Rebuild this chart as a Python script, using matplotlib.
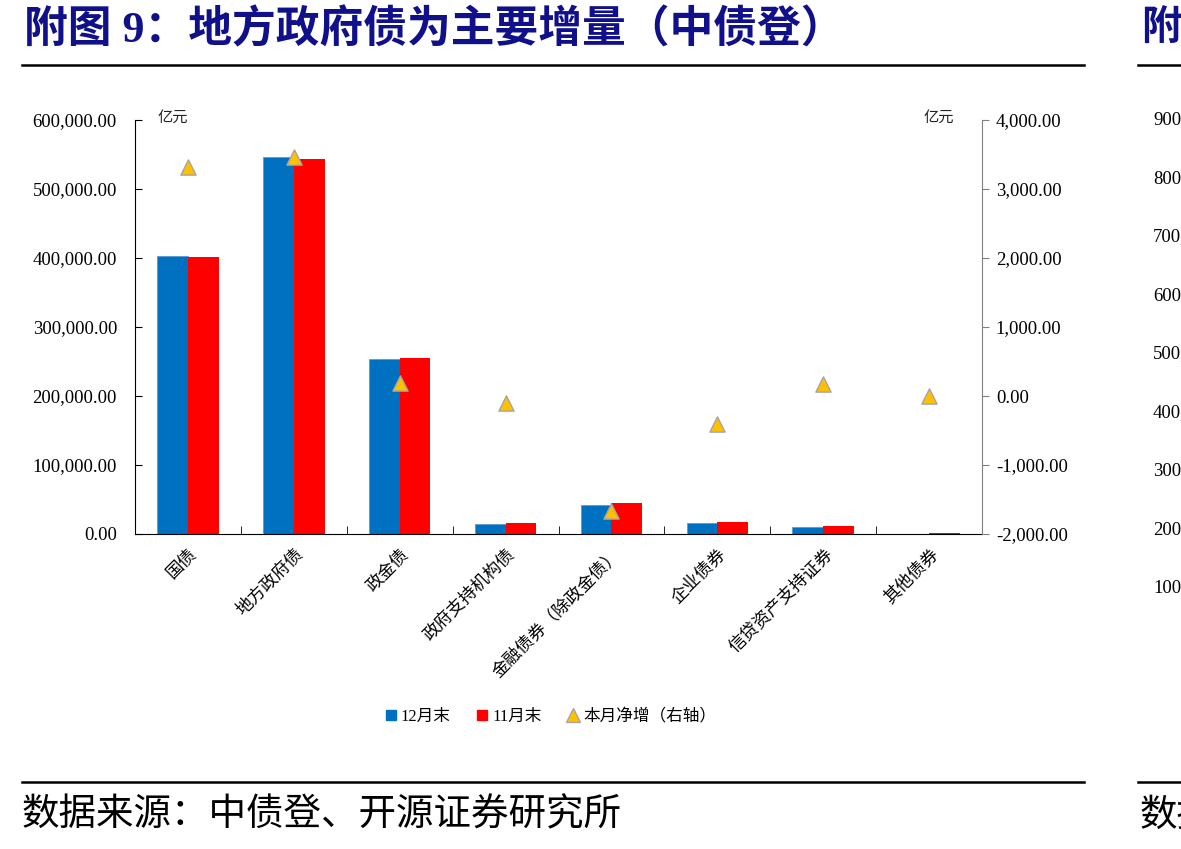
#!/usr/bin/env python3
"""Bond custody by category: 12月末 vs 11月末 balances with monthly net change (right axis)."""

import matplotlib
matplotlib.use("Agg")
import matplotlib.pyplot as plt
import matplotlib.patches as mpatches
from matplotlib.lines import Line2D
from matplotlib.ticker import FuncFormatter, MultipleLocator
import numpy as np

plt.rcParams["font.family"] = ["Liberation Serif", "Noto Sans CJK SC"]

# --- data (亿元) ---
categories = ["国债", "地方政府债", "政金债", "政府支持机构债", "金融债券（除政金债）",
              "企业债券", "信贷资产支持证券", "其他债券"]
dec_end = [403000, 545900, 253200, 14500, 41600, 15500, 10100, 300]
nov_end = [401400, 543500, 255100, 16000, 44900, 17400, 11600, 1500]
net_change = [3320, 3470, 190, -100, -1660, -410, 170, 0]

# cut-off neighbour chart on the right edge of the page
neighbour_ticks = ["900,000.00", "800,000.00", "700,000.00", "600,000.00", "500,000.00",
                   "400,000.00", "300,000.00", "200,000.00", "100,000.00"]

W, H = 1181, 849
BLUE, RED, GOLD = "#0070C0", "#FF0000", "#FFC000"
TITLE_C = "#10108A"


def fx(px):
    return px / W


def fy(px):
    return 1 - px / H


fig = plt.figure(figsize=(W / 100, H / 100), dpi=100)

# header / footer
fig.text(fx(24), fy(30), "附图 9：地方政府债为主要增量（中债登）", fontsize=31.5,
         fontweight="bold", color=TITLE_C, va="center", ha="left")
fig.add_artist(Line2D([fx(22), fx(1084)], [fy(65), fy(65)], lw=1.8, color="black"))
fig.add_artist(Line2D([fx(22), fx(1084)], [fy(782), fy(782)], lw=1.8, color="black"))
fig.text(fx(22), fy(815), "数据来源：中债登、开源证券研究所", fontsize=27,
         va="center", ha="left", family=["Noto Sans CJK SC"])

# neighbour chart remnants
fig.text(fx(1141), fy(30), "附", fontsize=29, fontweight="bold", color=TITLE_C,
         va="center", ha="left")
fig.add_artist(Line2D([fx(1138), fx(1181)], [fy(65), fy(65)], lw=1.8, color="black"))
fig.add_artist(Line2D([fx(1138), fx(1181)], [fy(782), fy(782)], lw=1.8, color="black"))
fig.text(fx(1140), fy(815), "数据", fontsize=27, va="center", ha="left",
         family=["Noto Sans CJK SC"])
for i, lab in enumerate(neighbour_ticks):
    fig.text(fx(1153), fy(120 + 58.5 * i), lab, fontsize=13.5, va="center", ha="left")

# main chart
ax = fig.add_axes([fx(135), fy(534), fx(982) - fx(135), fy(120) - fy(534)])
x = np.arange(len(categories))
bw = 0.29
ax.bar(x - bw / 2, dec_end, bw, color=BLUE, edgecolor="#5B9BD5", linewidth=0.6, zorder=2)
ax.bar(x + bw / 2, nov_end, bw, color=RED, linewidth=0, zorder=2)
ax.set_xlim(-0.5, len(categories) - 0.5)
ax.set_ylim(0, 600000)
ax.yaxis.set_major_locator(MultipleLocator(100000))
ax.yaxis.set_major_formatter(FuncFormatter(lambda v, _: f"{v:,.2f}"))
ax.tick_params(axis="y", direction="in", length=5, labelsize=13.5, pad=13)
ax.set_xticks(x)
ax.set_xticklabels(categories, rotation=45, ha="right", rotation_mode="anchor",
                   family=["Noto Sans CJK SC"], fontsize=12.5)
ax.tick_params(axis="x", length=0, pad=8)
ax.set_xticks(np.arange(0.5, len(categories) - 1), minor=True)
ax.tick_params(axis="x", which="minor", direction="in", length=6, color="black")
ax.spines["top"].set_visible(False)
ax.spines["right"].set_visible(False)

ax2 = ax.twinx()
ax2.scatter(x, net_change, marker="^", s=120, color=GOLD, edgecolor="#A5A5A5",
            linewidth=1, zorder=4)
ax2.set_ylim(-2000, 4000)
ax2.yaxis.set_major_locator(MultipleLocator(1000))
ax2.yaxis.set_major_formatter(FuncFormatter(lambda v, _: f"{v:,.2f}"))
ax2.tick_params(axis="y", direction="out", length=5, color="#808080", labelsize=13.5, pad=5)
ax2.spines["right"].set_color("#808080")
ax2.spines["top"].set_visible(False)
ax2.spines["left"].set_visible(False)
ax2.spines["bottom"].set_visible(False)

fig.text(fx(158), fy(117), "亿元", fontsize=11, va="center", ha="left",
         family=["Noto Sans CJK SC"], color="#222222")
fig.text(fx(954), fy(117), "亿元", fontsize=11, va="center", ha="right",
         family=["Noto Sans CJK SC"], color="#222222")

handles = [
    mpatches.Patch(color=BLUE, label="12月末"),
    mpatches.Patch(color=RED, label="11月末"),
    Line2D([], [], marker="^", linestyle="none", markersize=10, markerfacecolor=GOLD,
           markeredgecolor="#A5A5A5", label="本月净增（右轴）"),
]
fig.legend(handles=handles, loc="center", bbox_to_anchor=(fx(551), fy(717)), ncol=3,
           frameon=False, fontsize=12, handlelength=0.6, handleheight=0.6,
           handletextpad=0.3, columnspacing=1.6)

fig.savefig("out.png", dpi=100)
